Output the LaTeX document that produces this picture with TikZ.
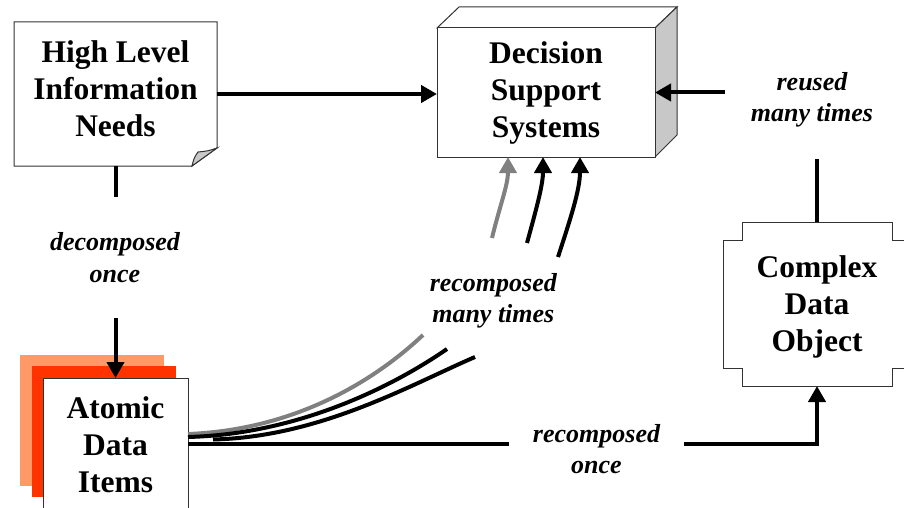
\documentclass[tikz,border=0pt]{standalone}
\usepackage{fontspec}
\setmainfont{Liberation Serif}
\usetikzlibrary{arrows.meta}
\definecolor{outline}{HTML}{333333}
\definecolor{sheetA}{HTML}{FF9966}
\definecolor{sheetB}{HTML}{FF3300}
\definecolor{sideface}{HTML}{C8C8C8}
\definecolor{softline}{HTML}{808080}
\begin{document}
\begin{tikzpicture}[x=1pt,y=-1pt,
  boxframe/.style={draw=none,inner sep=0pt,outer sep=0pt},
  boxtext/.style={font=\bfseries\fontsize{31.5}{37}\selectfont,align=center,inner sep=0pt},
  lbl/.style={font=\bfseries\itshape\fontsize{26}{31.5}\selectfont,align=center,fill=white},
  thin/.style={draw=outline,line width=1pt,line join=miter},
  conn/.style={line width=4pt,black},
  headtip/.style={-{Triangle[length=16pt,width=17pt]}}
]
\useasboundingbox (0,0) rectangle (904,508);

% ---- High Level Information Needs (note sheet with folded corner)
\node[boxframe,minimum width=203pt,minimum height=144pt] (hlin) at (115.5,94) {};
\draw[thin,fill=white] (14,22) -- (217,22) -- (217,148) -- (192,166) -- (14,166) -- cycle;
\draw[thin,fill=sideface] (192,166) .. controls (194,158) .. (198,152)
   .. controls (208,151) .. (217,148) -- cycle;
\node[boxtext] at ([yshift=5pt]hlin.center) {High Level\\Information\\Needs};

% ---- Decision Support Systems (3-D block)
\node[boxframe,minimum width=218pt,minimum height=129pt] (dss) at (546,92.5) {};
\draw[thin,fill=white] (437,28) -- (459,7) -- (677,7) -- (655,28) -- cycle;
\draw[thin,fill=sideface] (655,28) -- (677,7) -- (677,135) -- (655,157) -- cycle;
\draw[thin,fill=white] (437,28) rectangle (655,157);
\node[boxtext] at (dss.center) {Decision\\Support\\Systems};

% ---- Complex Data Object (notched box)
\node[boxframe,minimum width=150pt,minimum height=164pt] (cdo) at (817,304) {};
\draw[thin,fill=white] (742,222) -- (892,222) -- (892,240) -- (911,240) -- (911,368)
   -- (892,368) -- (892,386) -- (742,386) -- (742,368) -- (723,368) -- (723,240)
   -- (742,240) -- cycle;
\node[boxtext] at ([yshift=-3pt]cdo.center) {Complex\\Data\\Object};

% ---- Atomic Data Items (stacked sheets)
\fill[sheetA] (20,355) rectangle (164,486);
\fill[sheetB] (32,366) rectangle (176,497);
\node[boxframe,minimum width=145pt,minimum height=131pt] (adi) at (115.5,443.5) {};
\draw[thin,fill=white] (43,378) rectangle (188,509);
\node[boxtext] at ([yshift=-1pt]adi.center) {Atomic\\Data\\Items};

% ---- connectors
\draw[conn,headtip] (hlin.east) -- (hlin.east -| dss.west);

\draw[conn,headtip] (hlin.south) -- (adi.north);
\node[lbl,inner xsep=4pt,inner ysep=36pt] at (115,257.5) {decomposed\\once};

\draw[conn,headtip] (cdo.north) |- (dss.east);
\node[lbl,inner xsep=25.5pt,inner ysep=31pt] at (812,100) {reused\\many times};

\draw[conn,headtip] (adi.east) -| (cdo.south);
\node[lbl,inner xsep=24pt,inner ysep=6pt] at (596.5,449.3) {recomposed\\once};

% recomposed many times: three curved flows, split around their label
\coordinate (gA) at (423,335);
\coordinate (gB) at (492,238);
\coordinate (bA) at (447,349);
\coordinate (bB) at (527,243);
\coordinate (cA) at (475,357);
\coordinate (cB) at (558,257);

\draw[conn,softline] ([yshift=9.5pt]adi.east) .. controls (290,430) and (370,385) .. (gA);
\draw[conn,softline,headtip] (gB) .. controls (500,205) and (508,185) .. ([xshift=-38pt]dss.south);

\draw[conn] ([yshift=6.5pt]adi.east) .. controls (300,434) and (395,385) .. (bA);
\draw[conn,headtip] (bB) .. controls (536,210) and (543,185) .. ([xshift=-3pt]dss.south);

\draw[conn] ([shift={(25pt,4pt)}]adi.east) .. controls (320,437) and (410,385) .. (cA);
\draw[conn,headtip] (cB) .. controls (570,220) and (580,190) .. ([xshift=34pt]dss.south);

\node[font=\bfseries\itshape\fontsize{26}{31.5}\selectfont,align=center] (rmt) at (493.3,301) {recomposed\\many times};
\end{tikzpicture}
\end{document}
